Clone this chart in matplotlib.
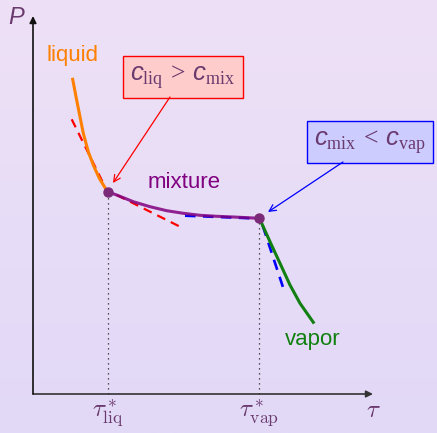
import matplotlib.pyplot as plt
import numpy as np
from matplotlib.colors import LinearSegmentedColormap

plt.rcParams['font.family'] = ['Liberation Sans', 'DejaVu Sans']
plt.rcParams['mathtext.fontset'] = 'custom'
plt.rcParams['mathtext.it'] = 'Liberation Sans:italic'
plt.rcParams['mathtext.rm'] = 'Liberation Serif'

TEXT = '#6a3a6e'

# isotherm pieces (tau, P)
liq_tau = [0.397, 0.430, 0.463, 0.503, 0.553, 0.603, 0.663, 0.730, 0.753]
liq_p = [3.147, 2.973, 2.807, 2.607, 2.423, 2.290, 2.157, 2.047, 2.020]
mix_tau = [0.753, 0.837, 1.003, 1.170, 1.337, 1.503, 1.670, 1.837, 2.003,
           2.203, 2.263]
mix_p = [2.020, 1.990, 1.923, 1.873, 1.833, 1.807, 1.787, 1.777, 1.770,
         1.760, 1.757]
vap_tau = [2.263, 2.287, 2.370, 2.470, 2.570, 2.670, 2.803]
vap_p = [1.757, 1.707, 1.523, 1.307, 1.090, 0.907, 0.717]

# transition points
tau_liq, p_liq = 0.753, 2.020
tau_vap, p_vap = 2.263, 1.757

# tangent segments (tau, P)
tan_liq_left = ([0.387, 0.703], [2.747, 2.107])
tan_liq_right = ([0.837, 1.470], [1.990, 1.673])
tan_vap_left = ([1.520, 2.187], [1.783, 1.757])
tan_vap_right = ([2.297, 2.520], [1.683, 1.007])

fig = plt.figure(figsize=(4.37, 4.33), dpi=100)

# beamer-like background
bg = fig.add_axes([0, 0, 1, 1], zorder=0)
cmap = LinearSegmentedColormap.from_list('bg', ['#eee1f6', '#e2d9f8'])
bg.imshow(np.linspace(0, 1, 256)[:, None], aspect='auto', cmap=cmap,
          extent=[0, 1, 0, 1])
bg.axis('off')

ax = fig.add_axes([0, 0, 1, 1], zorder=1)
ax.patch.set_alpha(0)
ax.set_xlim(-0.33, 4.04)
ax.set_ylim(-0.39, 3.94)
ax.axis('off')

# axes arrows
ax.annotate('', xy=(3.40, 0), xytext=(0, 0),
            arrowprops=dict(arrowstyle='-|>', color='#333333', lw=1.2,
                            mutation_scale=10, shrinkA=0, shrinkB=0))
ax.annotate('', xy=(0, 3.78), xytext=(0, 0),
            arrowprops=dict(arrowstyle='-|>', color='#111111', lw=1.2,
                            mutation_scale=10, shrinkA=0, shrinkB=0))
ax.text(-0.165, 3.76, 'P', fontsize=17, style='italic', color=TEXT,
        ha='center', va='center')
ax.text(3.40, -0.16, r'$\tau$', fontsize=18, color=TEXT, ha='center',
        va='center', math_fontfamily='cm')

# dotted drop lines and tick labels
for t, p, name in [(tau_liq, p_liq, 'liq'), (tau_vap, p_vap, 'vap')]:
    ax.plot([t, t], [0, p], ls=(0, (1, 3)), color='#222222', lw=0.9)
    ax.text(t, -0.19, r'$\tau^*_{\mathrm{%s}}$' % name, fontsize=18,
            color=TEXT, ha='center', va='center', math_fontfamily='cm')

# tangents
dash = (0, (4, 2.8))
ax.plot(*tan_liq_left, color='red', ls=dash, lw=1.6)
ax.plot(*tan_liq_right, color='red', ls=dash, lw=1.6)
ax.plot(*tan_vap_left, color='blue', ls=dash, lw=1.9)
ax.plot(*tan_vap_right, color='blue', ls=dash, lw=1.9)

# curves
ax.plot(liq_tau, liq_p, color='#ff8000', lw=2.2, solid_joinstyle='round')
ax.plot(mix_tau, mix_p, color='#800080', lw=2.2, alpha=0.85,
        solid_joinstyle='round')
ax.plot(vap_tau, vap_p, color='#118011', lw=2.2, solid_joinstyle='round')
ax.plot([tau_liq, tau_vap], [p_liq, p_vap], 'o', color='#7a2a78', ms=6.5,
        zorder=5)

ax.text(0.39, 3.38, 'liquid', fontsize=16, color='#ff8000', ha='center',
        va='center')
ax.text(1.51, 2.12, 'mixture', fontsize=16, color='#800080', ha='center',
        va='center')
ax.text(2.80, 0.55, 'vapor', fontsize=16, color='#118011', ha='center',
        va='center')

# callout boxes
ax.text(1.50, 3.17, r'$c_{\mathrm{liq}}\,>\,c_{\mathrm{mix}}$', fontsize=18.5,
        color=TEXT, ha='center', va='center',
        bbox=dict(boxstyle='square,pad=0.27', fc='#ffcccc', ec='red', lw=1))
ax.annotate('', xy=(0.80, 2.11), xytext=(1.37, 2.97),
            arrowprops=dict(arrowstyle='->', color='red', lw=0.9,
                            mutation_scale=12, shrinkA=0, shrinkB=0))
ax.text(3.37, 2.52, r'$c_{\mathrm{mix}}\,<\,c_{\mathrm{vap}}$', fontsize=18.5,
        color=TEXT, ha='center', va='center',
        bbox=dict(boxstyle='square,pad=0.27', fc='#ccccff', ec='blue', lw=1))
ax.annotate('', xy=(2.35, 1.82), xytext=(3.10, 2.32),
            arrowprops=dict(arrowstyle='->', color='blue', lw=0.9,
                            mutation_scale=12, shrinkA=0, shrinkB=0))

fig.savefig('out.png', dpi=100)
